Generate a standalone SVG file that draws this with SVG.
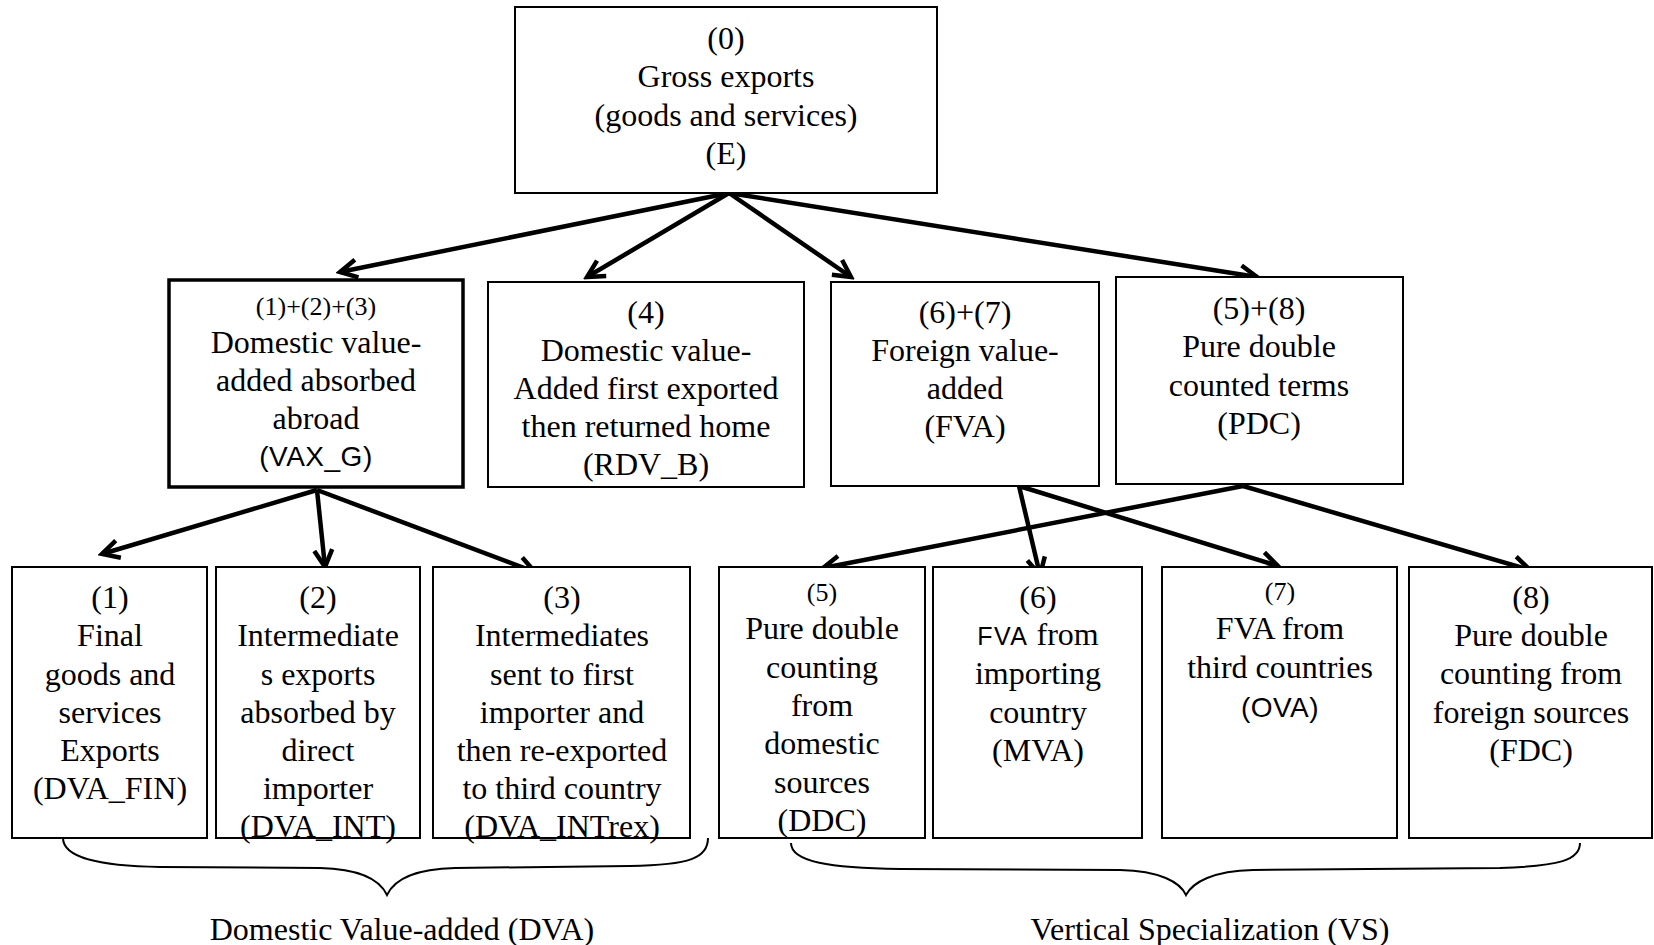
<svg xmlns="http://www.w3.org/2000/svg" width="1654" height="945" viewBox="0 0 1654 945">
<style>
.box{fill:#fff;stroke:#000;stroke-width:2}
.bold{stroke-width:3.5}
text{font-family:"Liberation Serif","Times New Roman",serif;font-size:32px;fill:#000;text-anchor:middle}
.sm{font-size:26px}
.sans{font-family:"Liberation Sans",Arial,sans-serif}
.conn{stroke:#000;stroke-width:4.5;fill:none;marker-end:url(#arr)}
.brace{stroke:#000;stroke-width:2;fill:none}
</style>
<defs>
<marker id="arr" markerUnits="userSpaceOnUse" viewBox="0 0 24 24" markerWidth="24" markerHeight="24" refX="20" refY="12" orient="auto">
<path d="M3,3 L20,12 L3,21" fill="none" stroke="#000" stroke-width="4.5"/>
</marker>
</defs>
<rect width="1654" height="945" fill="#fff"/>

<g id="connectors">
<line class="conn" x1="729" y1="193" x2="340" y2="272"/>
<line class="conn" x1="729" y1="193" x2="587" y2="277"/>
<line class="conn" x1="729" y1="193" x2="851" y2="277"/>
<line class="conn" x1="729" y1="193" x2="1257" y2="277"/>
<line class="conn" x1="317" y1="490" x2="102" y2="554"/>
<line class="conn" x1="317" y1="490" x2="325" y2="567"/>
<line class="conn" x1="317" y1="490" x2="535" y2="572"/>
<line class="conn" x1="1019" y1="486" x2="1040" y2="575"/>
<line class="conn" x1="1019" y1="486" x2="1278" y2="566"/>
<line class="conn" x1="1243" y1="486" x2="823" y2="568"/>
<line class="conn" x1="1243" y1="486" x2="1530" y2="570"/>
</g>

<g id="n0">
<rect class="box" x="515" y="7" width="422" height="186"/>
<text x="726" y="49">(0)</text>
<text x="726" y="87">Gross exports</text>
<text x="726" y="126">(goods and services)</text>
<text x="726" y="164">(E)</text>
</g>

<g id="vax">
<rect class="box bold" x="169" y="280" width="294" height="207"/>
<text class="sm" x="316" y="315">(1)+(2)+(3)</text>
<text x="316" y="353">Domestic value-</text>
<text x="316" y="391">added absorbed</text>
<text x="316" y="429">abroad</text>
<text class="sans" x="316" y="466" style="font-size:28px;letter-spacing:0.5px">(VAX_G)</text>
</g>

<g id="rdv">
<rect class="box" x="488" y="282" width="316" height="205"/>
<text x="646" y="323">(4)</text>
<text x="646" y="361">Domestic value-</text>
<text x="646" y="399">Added first exported</text>
<text x="646" y="437">then returned home</text>
<text x="646" y="475">(RDV_B)</text>
</g>

<g id="fva">
<rect class="box" x="831" y="282" width="268" height="204"/>
<text x="965" y="323">(6)+(7)</text>
<text x="965" y="361">Foreign value-</text>
<text x="965" y="399">added</text>
<text x="965" y="437">(FVA)</text>
</g>

<g id="pdc">
<rect class="box" x="1116" y="277" width="287" height="207"/>
<text x="1259" y="319">(5)+(8)</text>
<text x="1259" y="357">Pure double</text>
<text x="1259" y="396">counted terms</text>
<text x="1259" y="434">(PDC)</text>
</g>

<g id="b1">
<rect class="box" x="12" y="567" width="195" height="271"/>
<text x="110" y="608">(1)</text>
<text x="110" y="646">Final</text>
<text x="110" y="685">goods and</text>
<text x="110" y="723">services</text>
<text x="110" y="761">Exports</text>
<text x="110" y="799">(DVA_FIN)</text>
</g>

<g id="b2">
<rect class="box" x="216" y="567" width="204" height="271"/>
<text x="318" y="608">(2)</text>
<text x="318" y="646">Intermediate</text>
<text x="318" y="685">s exports</text>
<text x="318" y="723">absorbed by</text>
<text x="318" y="761">direct</text>
<text x="318" y="799">importer</text>
<text x="318" y="837">(DVA_INT)</text>
</g>

<g id="b3">
<rect class="box" x="433" y="567" width="257" height="271"/>
<text x="562" y="608">(3)</text>
<text x="562" y="646">Intermediates</text>
<text x="562" y="685">sent to first</text>
<text x="562" y="723">importer and</text>
<text x="562" y="761">then re-exported</text>
<text x="562" y="799">to third country</text>
<text x="562" y="837">(DVA_INTrex)</text>
</g>

<g id="b5">
<rect class="box" x="719" y="567" width="206" height="271"/>
<text class="sm" x="822" y="601">(5)</text>
<text x="822" y="639">Pure double</text>
<text x="822" y="678">counting</text>
<text x="822" y="716">from</text>
<text x="822" y="754">domestic</text>
<text x="822" y="793">sources</text>
<text x="822" y="831">(DDC)</text>
</g>

<g id="b6">
<rect class="box" x="933" y="567" width="209" height="271"/>
<text x="1038" y="608">(6)</text>
<text x="1038" y="645"><tspan class="sans" style="font-size:25px;letter-spacing:1.5px">FVA</tspan> from</text>
<text x="1038" y="684">importing</text>
<text x="1038" y="723">country</text>
<text x="1038" y="761">(MVA)</text>
</g>

<g id="b7">
<rect class="box" x="1162" y="567" width="235" height="271"/>
<text class="sm" x="1280" y="600">(7)</text>
<text x="1280" y="639">FVA from</text>
<text x="1280" y="678">third countries</text>
<text class="sans" x="1280" y="717" style="font-size:28px;letter-spacing:0.5px">(OVA)</text>
</g>

<g id="b8">
<rect class="box" x="1409" y="567" width="243" height="271"/>
<text x="1531" y="608">(8)</text>
<text x="1531" y="646">Pure double</text>
<text x="1531" y="684">counting from</text>
<text x="1531" y="723">foreign sources</text>
<text x="1531" y="761">(FDC)</text>
</g>

<g id="dva">
<path class="brace" d="M63,838 C63,858 100,866 160,867 L320,868 C360,869 380,880 387,895 C394,880 414,869 455,868 L630,866 C690,865 708,858 708,838"/>
<text x="402" y="940" style="font-size:32px">Domestic Value-added (DVA)</text>
</g>

<g id="vs">
<path class="brace" d="M791,843 C791,862 830,868 900,869 L1120,870 C1160,871 1180,882 1186,895 C1193,882 1213,871 1253,870 L1500,868 C1560,866 1580,860 1580,843"/>
<text x="1210" y="940" style="font-size:32px">Vertical Specialization (VS)</text>
</g>
</svg>
